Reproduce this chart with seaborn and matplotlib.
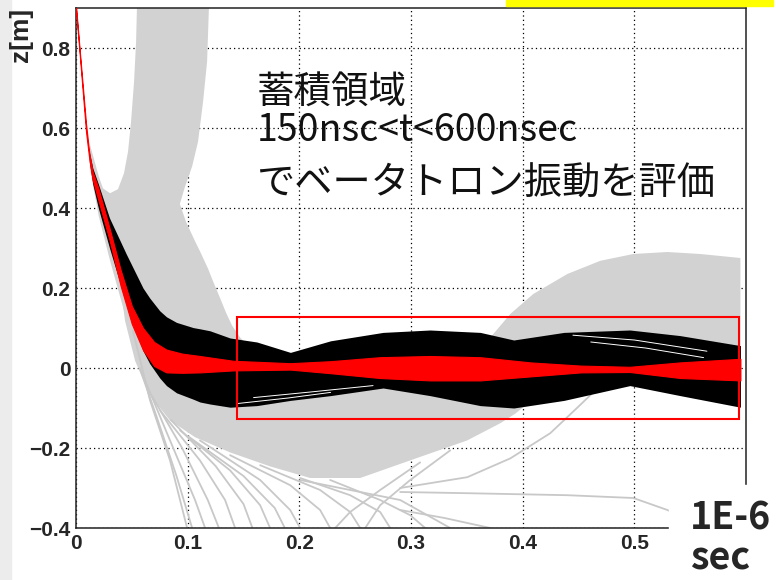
import numpy as np
import pandas as pd
import matplotlib
matplotlib.use('Agg')
import matplotlib.pyplot as plt
import seaborn as sns
from matplotlib.patches import Rectangle
from matplotlib.ticker import MultipleLocator, FuncFormatter

sns.set_style('white')
plt.rcParams['font.family'] = ['Liberation Sans', 'DejaVu Sans']

# ---- data (t in 1E-6 sec, z in m) ----
# red band (central beam)
red_t = [0.000, 0.003, 0.009, 0.012, 0.015, 0.020, 0.030, 0.040, 0.050, 0.060, 0.070, 0.081,
         0.095, 0.111, 0.141, 0.192, 0.228, 0.272, 0.317, 0.362, 0.407, 0.452, 0.496, 0.541, 0.595]
red_top = [0.905, 0.805, 0.610, 0.535, 0.490, 0.450, 0.350, 0.245, 0.155, 0.100, 0.065, 0.046,
           0.036, 0.030, 0.018, 0.012, 0.017, 0.027, 0.030, 0.027, 0.014, 0.006, 0.003, 0.014, 0.023]
red_bot = [0.895, 0.795, 0.590, 0.520, 0.470, 0.420, 0.320, 0.205, 0.110, 0.045, 0.005, -0.011,
           -0.012, -0.011, -0.006, -0.004, -0.013, -0.025, -0.031, -0.031, -0.021, -0.011, -0.010, -0.025, -0.031]

# black band
black_t = [0.012, 0.015, 0.020, 0.030, 0.045, 0.060, 0.066, 0.075, 0.081, 0.090, 0.105, 0.111,
           0.120, 0.138, 0.162, 0.192, 0.228, 0.275, 0.317, 0.362, 0.392, 0.437, 0.496, 0.541, 0.595]
black_top = [0.540, 0.500, 0.460, 0.375, 0.285, 0.200, 0.175, 0.143, 0.128, 0.114, 0.101, 0.098,
             0.093, 0.075, 0.065, 0.039, 0.068, 0.089, 0.095, 0.089, 0.070, 0.089, 0.095, 0.081, 0.056]
black_bot = [0.515, 0.460, 0.400, 0.300, 0.160, 0.043, 0.011, -0.025, -0.044, -0.062, -0.078, -0.085,
             -0.090, -0.098, -0.094, -0.081, -0.069, -0.050, -0.069, -0.094, -0.100, -0.081, -0.044, -0.069, -0.098]

# white streaks inside the black band
streaks = {
    'S1': ([0.159, 0.210, 0.266], [-0.074, -0.060, -0.044]),
    'S2': ([0.144, 0.190, 0.228], [-0.089, -0.075, -0.061]),
    'S3': ([0.445, 0.500, 0.565], [0.082, 0.070, 0.042]),
    'S4': ([0.461, 0.510, 0.562], [0.065, 0.050, 0.026]),
}

# gray fringe around the early band
fringe_t = [0.012, 0.020, 0.030, 0.045, 0.060, 0.075, 0.090, 0.110, 0.130]
fringe_top = [0.560, 0.480, 0.400, 0.310, 0.230, 0.170, 0.140, 0.120, 0.100]
fringe_bot = [0.500, 0.380, 0.270, 0.120, 0.000, -0.070, -0.110, -0.130, -0.140]

# dense gray areas (outlines)
fan_t = [0.0215, 0.0305, 0.0376, 0.043, 0.0466, 0.0493, 0.052, 0.0538, 0.0547, 0.1192, 0.1174,
         0.1138, 0.1093, 0.104, 0.0977, 0.093, 0.0986, 0.1066, 0.111, 0.1183, 0.1237, 0.129,
         0.1344, 0.1398, 0.147, 0.1559, 0.1649, 0.1649, 0.0663, 0.0305]
fan_z = [0.454, 0.437, 0.447, 0.487, 0.541, 0.616, 0.716, 0.815, 0.915, 0.915, 0.766,
         0.666, 0.566, 0.504, 0.454, 0.410, 0.365, 0.317, 0.292, 0.248, 0.210, 0.175,
         0.138, 0.106, 0.076, 0.051, 0.038, 0.000, 0.000, 0.300]

low_t = [0.040, 0.0439, 0.0529, 0.0663, 0.0842, 0.1066, 0.138, 0.1738, 0.2097, 0.2545, 0.2993,
         0.3504, 0.380, 0.3934, 0.4023, 0.4023, 0.200, 0.100, 0.060]
low_z = [0.200, 0.118, 0.018, -0.069, -0.131, -0.173, -0.211, -0.246, -0.275, -0.275, -0.231,
         -0.181, -0.138, -0.114, -0.094, -0.050, -0.050, -0.050, 0.080]

arc_t = [0.371, 0.3889, 0.4095, 0.440, 0.4695, 0.4991, 0.5296, 0.5591, 0.595, 0.595, 0.371]
arc_z = [0.076, 0.135, 0.185, 0.235, 0.268, 0.285, 0.290, 0.285, 0.275, 0.000, 0.000]

# single gray trajectories
strands = {
    'F1': ([0.051, 0.0663, 0.0842, 0.0995], [0.093, -0.081, -0.231, -0.400]),
    'F1b': ([0.057, 0.072, 0.090, 0.104], [0.000, -0.120, -0.270, -0.400]),
    'F2': ([0.0618, 0.0842, 0.1066, 0.1156], [-0.031, -0.181, -0.330, -0.400]),
    'F2b': ([0.068, 0.095, 0.118, 0.128], [-0.070, -0.200, -0.330, -0.400]),
    'F3': ([0.0753, 0.111, 0.1335, 0.1425], [-0.106, -0.231, -0.330, -0.400]),
    'F3b': ([0.085, 0.125, 0.150, 0.158], [-0.130, -0.245, -0.340, -0.400]),
    'F4': ([0.0932, 0.138, 0.1649, 0.1738], [-0.156, -0.256, -0.343, -0.400]),
    'F4b': ([0.100, 0.150, 0.178, 0.187], [-0.170, -0.270, -0.350, -0.400]),
    'F5': ([0.111, 0.1649, 0.1918, 0.2007], [-0.181, -0.280, -0.355, -0.400]),
    'F6': ([0.138, 0.1918, 0.2186, 0.2276], [-0.218, -0.293, -0.355, -0.400]),
    'F7': ([0.1649, 0.2186, 0.2455, 0.2545], [-0.243, -0.305, -0.360, -0.400]),
    'F8': ([0.2007, 0.2455, 0.2724, 0.2814], [-0.275, -0.318, -0.360, -0.400]),
    'F9': ([0.2276, 0.2724, 0.2993, 0.3127], [-0.280, -0.330, -0.368, -0.400]),
    'F10': ([0.3082, 0.2724, 0.2455, 0.2321], [-0.236, -0.305, -0.360, -0.400]),
    'F11': ([0.3351, 0.2993, 0.2724, 0.2590], [-0.206, -0.280, -0.343, -0.400]),
    'F12': ([0.2903, 0.330, 0.371], [-0.355, -0.375, -0.400]),
    'G1': ([0.2007, 0.2903, 0.3351], [-0.280, -0.330, -0.400]),
    'A': ([0.2903, 0.3504, 0.3889, 0.4247, 0.449, 0.4695, 0.4875],
          [-0.300, -0.273, -0.226, -0.163, -0.099, -0.044, -0.006]),
    'B': ([0.2903, 0.3504, 0.440, 0.4991, 0.5296, 0.550],
          [-0.310, -0.313, -0.318, -0.325, -0.355, -0.380]),
}

box_t = [0.1445, 0.594]
box_z = [-0.128, 0.128]

x_ticks = [0.0, 0.1, 0.2, 0.3, 0.4, 0.5]
y_ticks = [-0.4, -0.2, 0.0, 0.2, 0.4, 0.6, 0.8]

note_lines = ['蓄積領域', '150nsc<t<600nsec', 'でベータトロン振動を評価']

GRAY = '#c8c8c8'
FILL = '#d2d2d2'


def to_long(curves):
    rows = []
    for name, (ts, zs) in curves.items():
        for i, (t, z) in enumerate(zip(ts, zs)):
            rows.append({'strand': name, 'i': i, 't': t, 'z': z})
    return pd.DataFrame(rows)


strand_df = to_long(strands)
streak_df = to_long(streaks)

fig = plt.figure(figsize=(7.76, 5.8), dpi=100)
ax = fig.add_axes([76 / 776, 52 / 580, 670 / 776, 520 / 580])

# gray trajectories
ax.fill(fan_t, fan_z, color=FILL, lw=0, zorder=1)
ax.fill(low_t, low_z, color=FILL, lw=0, zorder=1)
ax.fill(arc_t, arc_z, color=FILL, lw=0, zorder=1)
ax.fill_between(fringe_t, fringe_bot, fringe_top, color=FILL, lw=0, zorder=1)
sns.lineplot(data=strand_df, x='t', y='z', units='strand', estimator=None, sort=False,
             color=GRAY, lw=1.3, ax=ax, legend=False, zorder=1.5)

# black and red bands
ax.fill_between(black_t, black_bot, black_top, color='black', lw=0, zorder=2)
sns.lineplot(data=streak_df, x='t', y='z', units='strand', estimator=None, sort=False,
             color='white', lw=0.7, ax=ax, legend=False, zorder=2.5)
ax.fill_between(red_t, red_bot, red_top, color='red', edgecolor='red', lw=0.8, zorder=3)

# region of interest
ax.add_patch(Rectangle((box_t[0], box_z[0]), box_t[1] - box_t[0], box_z[1] - box_z[0],
                       fill=False, edgecolor='red', lw=1.5, zorder=4))

ax.set_xlim(0, 0.6)
ax.set_ylim(-0.4, 0.9)
ax.set_xlabel('')
ax.set_ylabel('')
ax.set_xticks(x_ticks)
ax.set_yticks(y_ticks)
ax.xaxis.set_minor_locator(MultipleLocator(0.02))
ax.yaxis.set_minor_locator(MultipleLocator(0.05))
fmt = FuncFormatter(lambda v, p: ('%g' % round(v, 3)).replace('-', '\u2212'))
ax.xaxis.set_major_formatter(fmt)
ax.yaxis.set_major_formatter(fmt)
ax.tick_params(which='major', direction='in', length=13.5, width=1, color='#222222',
               labelsize=15, pad=4)
ax.tick_params(which='minor', direction='in', length=7, width=1, color='#222222')
ax.tick_params(axis='x', which='both', top=False)
ax.tick_params(axis='y', which='both', right=False)
for lab in ax.get_xticklabels() + ax.get_yticklabels():
    lab.set_fontweight('bold')
ax.set_axisbelow(True)
ax.grid(True, which='major', color='black', lw=0.9, linestyle=(0, (1, 2.5)))
for sp in ax.spines.values():
    sp.set_color('#222222')
    sp.set_linewidth(1.1)

# page furniture
fig.patches.append(Rectangle((0, 0), 11 / 776, 1, transform=fig.transFigure,
                             color='#ececec', zorder=0))
fig.patches.append(Rectangle((506 / 776, 1 - 6 / 580), 267 / 776, 6 / 580,
                             transform=fig.transFigure, color='#ffff00', zorder=5))
fig.patches.append(Rectangle((669 / 776, 0), 107 / 776, 95 / 580,
                             transform=fig.transFigure, color='white', zorder=5))

fig.text(21 / 776, 1 - 8 / 580, 'z[m]', rotation=90, ha='center', va='top',
         fontsize=19, fontweight='bold', zorder=6)
fig.text(690 / 776, 1 - 530 / 580, '1E-6', ha='left', va='baseline', fontsize=27,
         fontweight='bold', family=['Noto Sans CJK JP', 'DejaVu Sans'], zorder=6)
fig.text(690 / 776, 1 - 570 / 580, 'sec', ha='left', va='baseline', fontsize=27,
         fontweight='bold', family=['Noto Sans CJK JP', 'DejaVu Sans'], zorder=6)

jp = ['Noto Sans CJK JP', 'DejaVu Sans']
fig.text(257 / 776, 1 - 103 / 580, note_lines[0], ha='left', va='baseline', fontsize=27,
         family=jp, color='#111111', zorder=6)
fig.text(257 / 776, 1 - 141 / 580, note_lines[1], ha='left', va='baseline', fontsize=27,
         family=jp, color='#111111', zorder=6)
fig.text(257 / 776, 1 - 195 / 580, note_lines[2], ha='left', va='baseline', fontsize=27.5,
         family=jp, color='#111111', zorder=6)

fig.savefig('out.png', dpi=100)
